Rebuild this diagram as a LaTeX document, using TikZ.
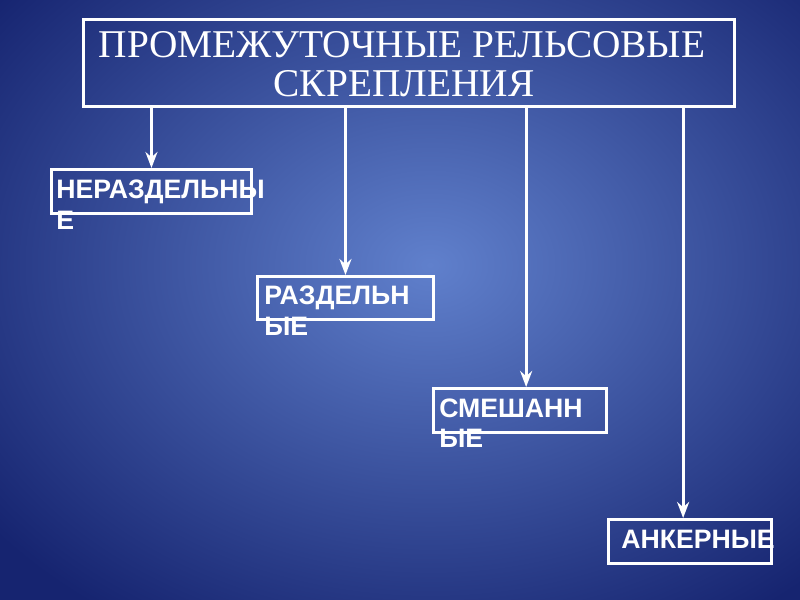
\documentclass[tikz,border=0pt]{standalone}
\usepackage{fontspec}
\setmainfont{Liberation Serif}
\newfontfamily\boxfont{Liberation Sans}
\usetikzlibrary{arrows.meta}
\definecolor{bgin}{RGB}{96,128,204}
\definecolor{bgout}{RGB}{22,36,112}
\tikzset{
  wline/.style={draw=white, line width=2.2pt},
  conn/.style={draw=white, line width=2.2pt, -{Stealth[length=12pt,width=9pt]}},
  catbox/.style={draw=white, line width=2.2pt, rectangle, inner sep=0pt},
  cattext/.style={text=white, font=\boxfont\bfseries\fontsize{20}{23}\selectfont, anchor=base west, inner sep=0pt},
  ttext/.style={text=white, font=\fontsize{29.5}{30}\selectfont, inner sep=0pt, anchor=base},
}
\begin{document}
\begin{tikzpicture}[x=0.75pt,y=-0.75pt]
\useasboundingbox (0,0) rectangle (800,600);
\begin{scope}
\clip (0,0) rectangle (800,600);
\shade[inner color=bgin, outer color=bgout] (-130,-160) rectangle (990,690);
\end{scope}
% title
\node[catbox, minimum width=488pt, minimum height=65pt, anchor=north west] (title) at (82,18) {};
\node[ttext] (t1) at (402,57) {ПРОМЕЖУТОЧНЫЕ РЕЛЬСОВЫЕ};
\node[ttext] (t2) at (404,96) {СКРЕПЛЕНИЯ};
% boxes
\node[catbox, minimum width=150pt, minimum height=33pt, anchor=north west] (b1) at (50,168) {};
\node[catbox, minimum width=132pt, minimum height=32pt, anchor=north west] (b2) at (256,275) {};
\node[catbox, minimum width=130pt, minimum height=33pt, anchor=north west] (b3) at (432,387) {};
\node[catbox, minimum width=122pt, minimum height=33pt, anchor=north west] (b4) at (607,518) {};
% texts
\node[cattext] (l1a) at (56,198) {НЕРАЗДЕЛЬНЫ};
\node[cattext] (l1b) at (56,229) {Е};
\node[cattext] (l2a) at (264,304) {РАЗДЕЛЬН};
\node[cattext] (l2b) at (264,335) {ЫЕ};
\node[cattext] (l3a) at (439,417) {СМЕШАНН};
\node[cattext] (l3b) at (439,447) {ЫЕ};
\node[cattext] (l4a) at (621,548) {АНКЕРНЫЕ};
% connectors
\draw[conn] (title.south -| b1.north) -- (b1.north);
\draw[conn] (title.south -| b2.north) -- (b2.north);
\draw[conn] ([xshift=4.5pt]b3.north |- title.south) -- ([xshift=4.5pt]b3.north);
\draw[conn] ([xshift=-5pt]b4.north |- title.south) -- ([xshift=-5pt]b4.north);
\end{tikzpicture}
\end{document}
